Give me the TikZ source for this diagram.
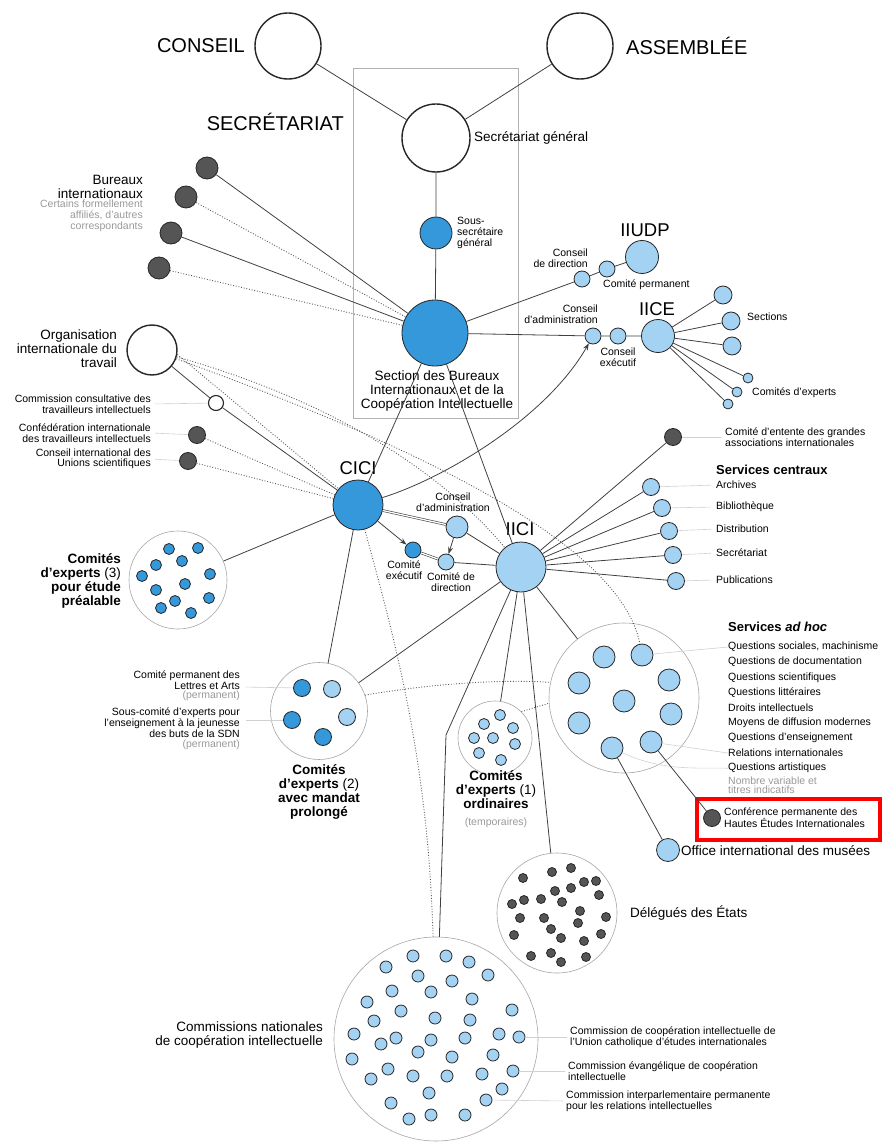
\documentclass[tikz,border=0pt]{standalone}
\usepackage{fontspec}
\setmainfont{Liberation Sans}
\usetikzlibrary{arrows.meta}
\definecolor{midblue}{HTML}{3498DB}
\definecolor{liteblue}{HTML}{A4D2F2}
\definecolor{darkgrey}{HTML}{555555}

\begin{document}
\begin{tikzpicture}[x=1pt,y=-1pt,
    orb/.style={circle, draw=black!85, line width=0.8pt, inner sep=0pt},
    mid/.style={orb, fill=midblue},
    lite/.style={orb, fill=liteblue},
    dark/.style={orb, fill=darkgrey},
    blank/.style={orb, fill=white, line width=1.4pt},
    group/.style={circle, draw=black!35, fill=white, line width=0.6pt, inner sep=0pt},
    link/.style={black!75, line width=0.8pt},
    dots/.style={black!65, dash pattern=on 0.9pt off 1.8pt, line width=0.9pt},
    lead/.style={black!18, line width=0.6pt},
    big/.style={font=\fontsize{20}{22}\selectfont, inner sep=0pt},
    acr/.style={font=\fontsize{18.5}{20}\selectfont, inner sep=0pt},
    txtl/.style={font=\fontsize{13.5}{14}\selectfont, inner sep=0pt},
    txtb/.style={font=\fontsize{13}{14}\selectfont\bfseries, inner sep=0pt},
    txt/.style={font=\fontsize{10.5}{11}\selectfont, inner sep=0pt},
    txtt/.style={font=\fontsize{10.5}{9.5}\selectfont, inner sep=0pt},
    faint/.style={text=black!40}]
\useasboundingbox (0,0) rectangle (888,1147);

% Secretariat
\draw[black!30, line width=0.8pt] (353,68) rectangle (518,418);
\node[blank, minimum size=66] (conseil) at (288,46) {};
\node[big, anchor=east] (conseilT) at (245,46) {CONSEIL};
\node[blank, minimum size=66] (assemblee) at (580,46) {};
\node[big, anchor=west] (assembleeT) at (626,46) {ASSEMBLÉE};
\node[big, anchor=east] (secT) at (344,122) {SECRÉTARIAT};
\node[blank, minimum size=68] (secgen) at (436,138) {};
\node[txtl, anchor=west] (secgenT) at (474,138) {Secrétariat général};
\node[mid, minimum size=32] (sous) at (436,233) {};
\node[txt, anchor=west, align=left] (sousT) at (457,233) {Sous-\\secrétaire\\général};
\node[mid, minimum size=66] (section) at (435,333) {};
\node[txtl, align=center] (sectionT) at (437,391) {Section des Bureaux\\Internationaux et de la\\Coopération Intellectuelle};
\draw[link] (conseil) -- (secgen);
\draw[link] (assemblee) -- (secgen);
\draw[link] (secgen) -- (sous) -- (section);

% Bureaux internationaux
\foreach \x/\y [count=\i] in {207/168,186/197,171/233,159/268}
  \node[dark, minimum size=22] (bur\i) at (\x,\y) {};
\node[txtl, anchor=east, align=right] (burT) at (143,187) {Bureaux\\internationaux};
\node[txt, faint, anchor=east, align=right] (burN) at (143,216) {Certains formellement\\affiliés, d'autres\\correspondants};
\draw[link] (bur1) -- (section);
\draw[dots] (bur2) -- (section);
\draw[link] (bur3) -- (section);
\draw[dots] (bur4) -- (section);

% IIUDP and IICE
\node[lite, minimum size=16] (iudpCD) at (582,279) {};
\node[lite, minimum size=16] (iudpCP) at (607,269) {};
\node[lite, minimum size=33] (iudp) at (642,257) {};
\node[acr] (iudpT) at (645,230) {IIUDP};
\node[txt, anchor=east, align=right] (iudpCDT) at (588,258) {Conseil\\de direction};
\node[txt, anchor=west] (iudpCPT) at (603,285) {Comité permanent};
\draw[link] (section) -- (iudpCD) -- (iudpCP) -- (iudp);

\node[lite, minimum size=16] (iiceCA) at (593,336) {};
\node[lite, minimum size=16] (iiceCE) at (618,336) {};
\node[lite, minimum size=33] (iice) at (658,336) {};
\node[acr] (iiceT) at (657,309) {IICE};
\node[txt, anchor=east, align=right] (iiceCAT) at (598,314) {Conseil\\d'administration};
\node[txt, align=center] (iiceCET) at (618,357) {Conseil\\exécutif};
\draw[link] (section) -- (iiceCA) -- (iiceCE) -- (iice);
\foreach \x/\y/\s [count=\i] in {723/295/18,731/321/18,732/346/18,748/378/10,737/392/10,728/404/10} {
  \node[lite, minimum size=\s] (iiceS\i) at (\x,\y) {};
  \draw[link] (iice) -- (iiceS\i);
}
\node[txt, anchor=west] (sectT) at (747,317) {Sections};
\node[txt, anchor=west] (cexpT) at (752,393) {Comités d'experts};

% OIT
\node[blank, minimum size=50] (oit) at (152,350) {};
\node[txtl, anchor=east, align=right] (oitT) at (117,349) {Organisation\\internationale du\\travail};
\node[orb, fill=white, line width=1.1pt, minimum size=15] (ccti) at (216,403) {};
\node[dark, minimum size=17] (citi) at (197,435) {};
\node[dark, minimum size=17] (ciu) at (188,461) {};
\node[txt, anchor=east, align=right] (cctiT) at (151,404) {Commission consultative des\\travailleurs intellectuels};
\node[txt, anchor=east, align=right] (citiT) at (151,433) {Confédération internationale\\des travailleurs intellectuels};
\node[txtt, anchor=east, align=right] (ciuT) at (151,459) {Conseil international des\\Unions scientifiques};
\draw[lead, shorten <=4pt] (cctiT.east) -- (ccti);
\draw[lead, shorten <=4pt] (citiT.east) -- (citi);
\draw[lead, shorten <=4pt] (ciuT.east) -- (ciu);

% CICI and IICI
\node[mid, minimum size=50] (cici) at (358,505) {};
\node[acr] (ciciT) at (358,468) {CICI};
\node[lite, minimum size=22] (ciciCA) at (457,527) {};
\node[mid, minimum size=16] (ciciCE) at (413,550) {};
\node[lite, minimum size=16] (ciciCD) at (446,562) {};
\node[txt, align=center] (ciciCAT) at (453,502) {Conseil\\d'administration};
\node[txt, align=center] (ciciCET) at (404,570) {Comité\\exécutif};
\node[txt, align=center] (ciciCDT) at (451,582) {Comité de\\direction};
\node[lite, minimum size=50] (iici) at (521,567) {};
\node[acr] (iiciT) at (520,529) {IICI};

\draw[link] (oit) -- (ccti) -- (cici);
\draw[dots] (citi) -- (cici);
\draw[dots] (ciu) -- (cici);
\draw[dots] (oit.-10) -- (cici);
\draw[link] (section) -- (cici);
\draw[link] (section) -- (iici);
\draw[link, -{Stealth[length=7pt,width=5pt]}] (cici) .. controls (440,480) and (545,420) .. (iiceCA);
\draw[black!75, line width=0.6pt, double, double distance=1.3pt] (cici) -- (ciciCA);
\draw[black!75, line width=0.6pt, double, double distance=1.3pt] (ciciCE) -- (ciciCD);
\draw[link, -{Stealth[length=7pt,width=5pt]}] (cici) -- (ciciCE);
\draw[link, -{Stealth[length=7pt,width=5pt]}] (ciciCA) -- (ciciCD);
\draw[link] (ciciCA) -- (iici);
\draw[link] (ciciCD) -- (iici);

% Services centraux
\node[dark, minimum size=17] (entente) at (673,437) {};
\node[txtt, anchor=west, align=left] (ententeT) at (725,437) {Comité d'entente des grandes\\associations internationales};
\draw[lead, shorten >=4pt] (entente) -- (ententeT.west);
\draw[link] (iici) -- (entente);
\node[txtb, anchor=west] (centrT) at (716,470) {Services centraux};
\foreach \x/\y/\t/\ty [count=\i] in {651/487/Archives/485,662/508/Bibliothèque/507,669/531/Distribution/529,673/555/Secrétariat/553,676/581/Publications/580} {
  \node[lite, minimum size=17] (sc\i) at (\x,\y) {};
  \node[txt, anchor=west] (scT\i) at (716,\ty) {\t};
  \draw[lead, shorten >=5pt] (sc\i) -- (scT\i.west);
  \draw[link] (iici) -- (sc\i);
}

% Services ad hoc
\node[group, minimum size=150] (adhoc) at (624,698) {};
\foreach \x/\y [count=\i] in {604/657,642/655,579/683,669/680,624/701,671/714,579/723,651/742,612/748}
  \node[lite, minimum size=22] (ah\i) at (\x,\y) {};
\node[txtb, anchor=west] (adhocT) at (728,627) {Services \textit{ad hoc}};
\foreach \t [count=\i] in {{Questions sociales, machinisme},Questions de documentation,Questions scientifiques,Questions littéraires,Droits intellectuels,Moyens de diffusion modernes,Questions d'enseignement,Relations internationales,Questions artistiques}
  \node[txt, anchor=west] (ahL\i) at (728,{647+15.15*(\i-1)}) {\t};
\node[txtt, faint, anchor=west, align=left] (ahN) at (728,785) {Nombre variable et\\titres indicatifs};
\draw[lead] (ah2) -- (ahL1.west);
\draw[lead] (ah8) -- (ahL8.west);
\draw[lead] (ah9) .. controls (660,770) and (690,768) .. (ahL9.west);
\draw[link] (iici) -- (adhoc);

\node[dark, minimum size=17] (confer) at (712,818) {};
\node[txtt, anchor=west, align=left] (conferT) at (724,818) {Conférence permanente des\\Hautes Études Internationales};
\draw[red, line width=3.5pt] (697,799) rectangle (880,840);
\node[lite, minimum size=23] (office) at (668,850) {};
\node[txtl, anchor=west] (officeT) at (681,851) {Office international des musées};
\draw[link] (ah8) -- (confer);
\draw[link] (ah9) -- (office);

% Comites d'experts (3)
\node[group, minimum size=98] (g3) at (178,580) {};
\foreach \x/\y [count=\i] in {169/549,198/548,156/565,182/561,142/576,210/574,185/584,156/590,209/598,175/601,161/608,191/613}
  \node[mid, minimum size=11] (g3d\i) at (\x,\y) {};
\node[txtl, anchor=east, align=right] (g3T) at (121,581) {\textbf{Comités}\\\textbf{d'experts} (3)\\\textbf{pour étude}\\\textbf{préalable}};
\draw[link] (cici) -- (g3);

% Comites d'experts (2)
\node[group, minimum size=97] (g2) at (319,711) {};
\node[mid, minimum size=17] (g2a) at (302,688) {};
\node[lite, minimum size=17] (g2b) at (332,689) {};
\node[mid, minimum size=17] (g2c) at (292,720) {};
\node[lite, minimum size=17] (g2d) at (347,717) {};
\node[mid, minimum size=17] (g2e) at (323,737) {};
\node[txtl, align=center] (g2T) at (319,792) {\textbf{Comités}\\\textbf{d'experts} (2)\\\textbf{avec mandat}\\\textbf{prolongé}};
\node[txt, anchor=east, align=right] (g2aT) at (240,680) {Comité permanent des\\Lettres et Arts};
\node[txt, faint, anchor=east] (g2aN) at (240,696) {(permanent)};
\node[txt, anchor=east, align=right] (g2cT) at (240,723) {Sous-comité d'experts pour\\l'enseignement à la jeunesse\\des buts de la SDN};
\node[txt, faint, anchor=east] (g2cN) at (240,745) {(permanent)};
\draw[lead, shorten <=6pt] (240,687) -- (g2a);
\draw[lead, shorten <=6pt] (240,720) -- (g2c);
\draw[link] (cici) -- (g2);
\draw[link] (iici) -- (g2);

% Comites d'experts (1)
\node[group, minimum size=74] (g1) at (495,738) {};
\foreach \x/\y [count=\i] in {500/715,484/724,513/728,474/738,493/738,515/744,479/753,501/760}
  \node[lite, minimum size=11] (g1d\i) at (\x,\y) {};
\node[txtl, align=center] (g1T) at (496,790) {\textbf{Comités}\\\textbf{d'experts} (1)\\\textbf{ordinaires}};
\node[txt, faint] (g1N) at (496,823) {(temporaires)};
\draw[link] (iici) -- (g1);
\draw[dots] (g2.19) .. controls (430,684) and (500,679) .. (adhoc.168);
\draw[dots] (g1.45) -- (adhoc.184);

% Delegues des Etats
\node[group, minimum size=120] (deleg) at (557,913) {};
\foreach \x/\y [count=\i] in {523/878,552/872,571/868,584/882,596/881,571/888,555/891,599/895,512/904,524/900,541/899,562/902,580/911,520/918,544/918,606/917,578/923,551/929,514/935,561/938,584/941,601/934,531/956,551/953,561/962,586/957}
  \node[dark, minimum size=9] (dd\i) at (\x,\y) {};
\node[txtl, anchor=west] (delegT) at (630,913) {Délégués des États};
\draw[link] (iici) -- (deleg);

% Commissions nationales
\node[group, minimum size=204] (comm) at (436,1039) {};
\foreach \x/\y [count=\i] in {386/967,413/956,446/956,469/962,488/975,418/976,452/981,392/991,431/992,472/999,367/1002,401/1011,512/1010,435/1018,470/1020,374/1021,354/1034,396/1038,431/1040,465/1038,499/1034,519/1037,381/1044,418/1052,452/1057,493/1055,352/1059,388/1069,413/1076,447/1076,482/1074,513/1071,371/1079,429/1093,502/1089,391/1103,486/1100,409/1119,431/1115,465/1115}
  \node[lite, minimum size=12] (cn\i) at (\x,\y) {};
\node[txtl, anchor=east, align=right] (commT) at (323,1035) {Commissions nationales\\de coopération intellectuelle};
\node[txtt, anchor=west, align=left] (cuT) at (570,1037) {Commission de coopération intellectuelle de\\l'Union catholique d'études internationales};
\node[txtt, anchor=west, align=left] (ceT) at (568,1071) {Commission évangélique de coopération\\intellectuelle};
\node[txtt, anchor=west, align=left] (ciT) at (566,1101) {Commission interparlementaire permanente\\pour les relations intellectuelles};
\draw[lead, shorten >=3pt] (cn22) -- (cuT.west);
\draw[lead, shorten >=3pt] (cn32) -- (ceT.west);
\draw[lead, shorten >=3pt] (cn37) -- (ciT.west);
\coordinate (kink) at (446,735);
\draw[link] (iici) -- (kink) -- (comm);
\draw[dots] (cici) .. controls (395,640) and (428,760) .. (comm);

% dotted links from OIT
\draw[dots] (oit) .. controls (330,400) and (440,470) .. (iici);
\draw[dots] (oit) .. controls (400,440) and (620,540) .. (ah2);
\end{tikzpicture}
\end{document}
